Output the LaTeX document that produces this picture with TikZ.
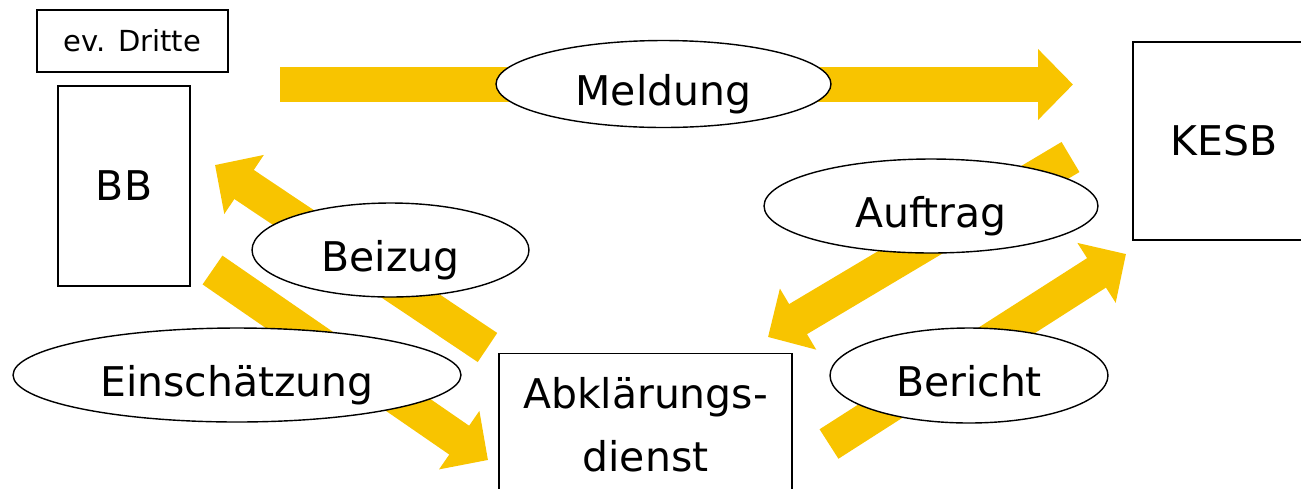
\documentclass[tikz,border=0pt]{standalone}
\usepackage{fontspec}
\setmainfont{DejaVu Sans}
\usetikzlibrary{shapes.geometric, arrows.meta}
\definecolor{gelb}{RGB}{248,196,0}
\tikzstyle{box} = [rectangle, 
draw=black, 
line width=0.8pt, 
fill=white, 
inner sep=0pt, 
text centered, 
font=\fontsize{23.3}{36}\selectfont]
\tikzstyle{bubble} = [ellipse, 
draw=black, 
line width=0.8pt, 
fill=white, 
inner sep=0pt, 
text height=24pt, % text sits a bit low
text depth=0pt,
font=\fontsize{23.3}{28}\selectfont]
\tikzstyle{coord} = [coordinate]
\tikzstyle{fatarrow} = [line width=0.7cm, draw=gelb, -{Triangle[width=1.38cm, length=0.7cm]}]

\begin{document}
\begin{tikzpicture}[x=0.02cm, y=-0.02cm]
		\useasboundingbox (0,0) rectangle (1301,488);
		% ends of the arrows
		\coordinate (c1) at (280,84.5);
		\coordinate (c2) at (1073,84.5);
		\coordinate (c3) at (487.5,347.5);
		\coordinate (c4) at (215,165);
		\coordinate (c5) at (212.5,270);
		\coordinate (c6) at (488,460);
		\coordinate (c7) at (1070.5,157);
		\coordinate (c8) at (768,337);
		\coordinate (c9) at (829,444);
		\coordinate (c10) at (1126,254);
		\draw [fatarrow] (c1) -- (c2);
		\draw [fatarrow] (c3) -- (c4);
		\draw [fatarrow] (c5) -- (c6);
		\draw [fatarrow] (c7) -- (c8);
		\draw [fatarrow] (c9) -- (c10);

		\node (dritte) [box, minimum width=3.82cm, minimum height=1.24cm, font=\fontsize{16.5}{20}\selectfont] at (132.5,41) {ev. Dritte};
		\node (bb) [box, minimum width=2.64cm, minimum height=4cm] at (124,186) {BB};
		\node (kesb) [box, minimum width=3.64cm, minimum height=3.96cm] at (1224,141) {KESB};
		\node (abkl) [box, minimum width=5.86cm, inner ysep=13.5pt, anchor=north, align=center] at (645.5,353) {Abklärungs-\\dienst\rule[-1cm]{0pt}{0pt}};

		\node (meld) [bubble, minimum width=6.7cm, minimum height=1.74cm] at (663.5,84) {Meldung};
		\node (beiz) [bubble, minimum width=5.54cm, minimum height=1.88cm] at (390.5,250) {Beizug};
		\node (einsch) [bubble, minimum width=8.96cm, minimum height=1.88cm] at (237,375) {Einschätzung};
		\node (auftr) [bubble, minimum width=6.68cm, minimum height=1.88cm] at (931,206) {Auftrag};
		\node (ber) [bubble, minimum width=5.56cm, minimum height=1.9cm] at (969,375.5) {Bericht};
	\end{tikzpicture}
\end{document}
